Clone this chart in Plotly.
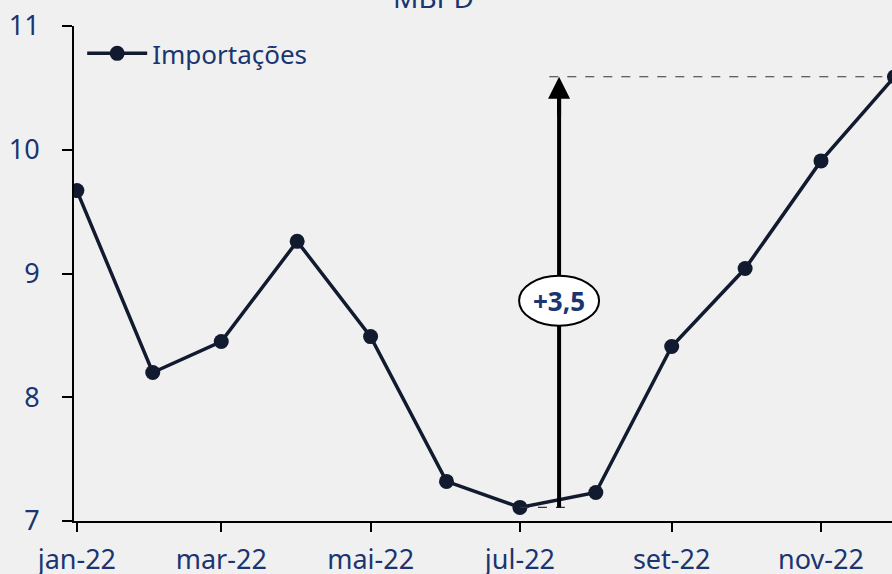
import plotly.graph_objects as go

months = ["2022-01-01", "2022-02-01", "2022-03-01", "2022-04-01", "2022-05-01", "2022-06-01",
          "2022-07-01", "2022-08-01", "2022-09-01", "2022-10-01", "2022-11-01", "2022-12-01"]
importacoes = [9.67, 8.20, 8.45, 9.26, 8.49, 7.32, 7.11, 7.23, 8.41, 9.04, 9.91, 10.59]
tick_vals = ["2022-01-01", "2022-03-01", "2022-05-01", "2022-07-01", "2022-09-01", "2022-11-01"]
tick_text = ["jan-22", "mar-22", "mai-22", "jul-22", "set-22", "nov-22"]
delta_label = "+3,5"

NAVY = "#1a3570"
LINE = "#111a2e"
BG = "#f0f0f0"
FONT = "Noto Sans"

fig = go.Figure()
fig.add_trace(go.Scatter(
    x=months, y=importacoes, mode="lines+markers", name="Importações",
    line=dict(color=LINE, width=3.5), marker=dict(color=LINE, size=15),
))

y_low = min(importacoes)
y_high = importacoes[-1]
arrow_x = "2022-07-17"
label_y = 8.78

# dashed reference lines
fig.add_shape(type="line", xref="x", yref="y", x0="2022-07-13", x1=months[-1], y0=y_high, y1=y_high,
              line=dict(color="#333333", width=1.2, dash="dash"))
fig.add_shape(type="line", xref="x", yref="y", x0=months[6], x1="2022-07-20", y0=y_low, y1=y_low,
              line=dict(color="#333333", width=1.2, dash="dash"))

# arrow shaft (shape, so the ellipse can sit above it)
fig.add_shape(type="line", xref="x", yref="y", x0=arrow_x, x1=arrow_x, y0=y_low, y1=y_high - 0.1,
              line=dict(color="black", width=4))
# arrow head
fig.add_annotation(x=arrow_x, y=y_high, xref="x", yref="y", ax=0, ay=40,
                   showarrow=True, arrowhead=2, arrowsize=1.1, arrowwidth=4, arrowcolor="black", text="")

# ellipse label
fig.add_shape(type="circle", xref="x", yref="y", xsizemode="pixel", ysizemode="pixel",
              xanchor=arrow_x, yanchor=label_y, x0=-40, x1=40, y0=-25, y1=25,
              fillcolor="white", line=dict(color="black", width=2), layer="above")
fig.add_annotation(x=arrow_x, y=label_y, xref="x", yref="y", text="<b>" + delta_label + "</b>", showarrow=False,
                   font=dict(family=FONT, size=26, color=NAVY))

# title (cut off at top)
fig.add_annotation(x=0.44, y=1, xref="paper", yref="paper", yanchor="middle", yshift=29,
                   text="MBPD", showarrow=False, font=dict(family=FONT, size=28, color=NAVY))

fig.update_layout(
    width=892, height=574,
    margin=dict(l=74, r=0, t=26, b=53),
    paper_bgcolor=BG, plot_bgcolor=BG,
    font=dict(family=FONT, size=26, color=NAVY),
    showlegend=True,
    legend=dict(x=0.01, y=0.992, xanchor="left", yanchor="top", bgcolor="rgba(0,0,0,0)",
                font=dict(family=FONT, size=26, color=NAVY), itemwidth=60),
    xaxis=dict(type="date", range=["2021-12-30 20:00", "2022-11-30"], automargin=False,
               tickvals=tick_vals, ticktext=tick_text, ticks="outside", ticklen=9, tickwidth=2,
               tickcolor="black", showline=True, linecolor="black", linewidth=2,
               showgrid=False, zeroline=False, tickfont=dict(size=27, color=NAVY), ticklabelstandoff=5,
               ticklabeloverflow="allow"),
    yaxis=dict(range=[7, 11], tickvals=[7, 8, 9, 10, 11], ticks="outside", ticklen=10, tickwidth=2,
               automargin=False, ticklabeloverflow="allow",
               tickcolor="black", showline=True, linecolor="black", linewidth=2,
               showgrid=False, zeroline=False, tickfont=dict(size=27, color=NAVY), ticklabelstandoff=17),
)

fig.write_html("out.html", config={"displayModeBar": False},
               post_script="document.body.style.margin='0';document.body.style.overflow='hidden';")
